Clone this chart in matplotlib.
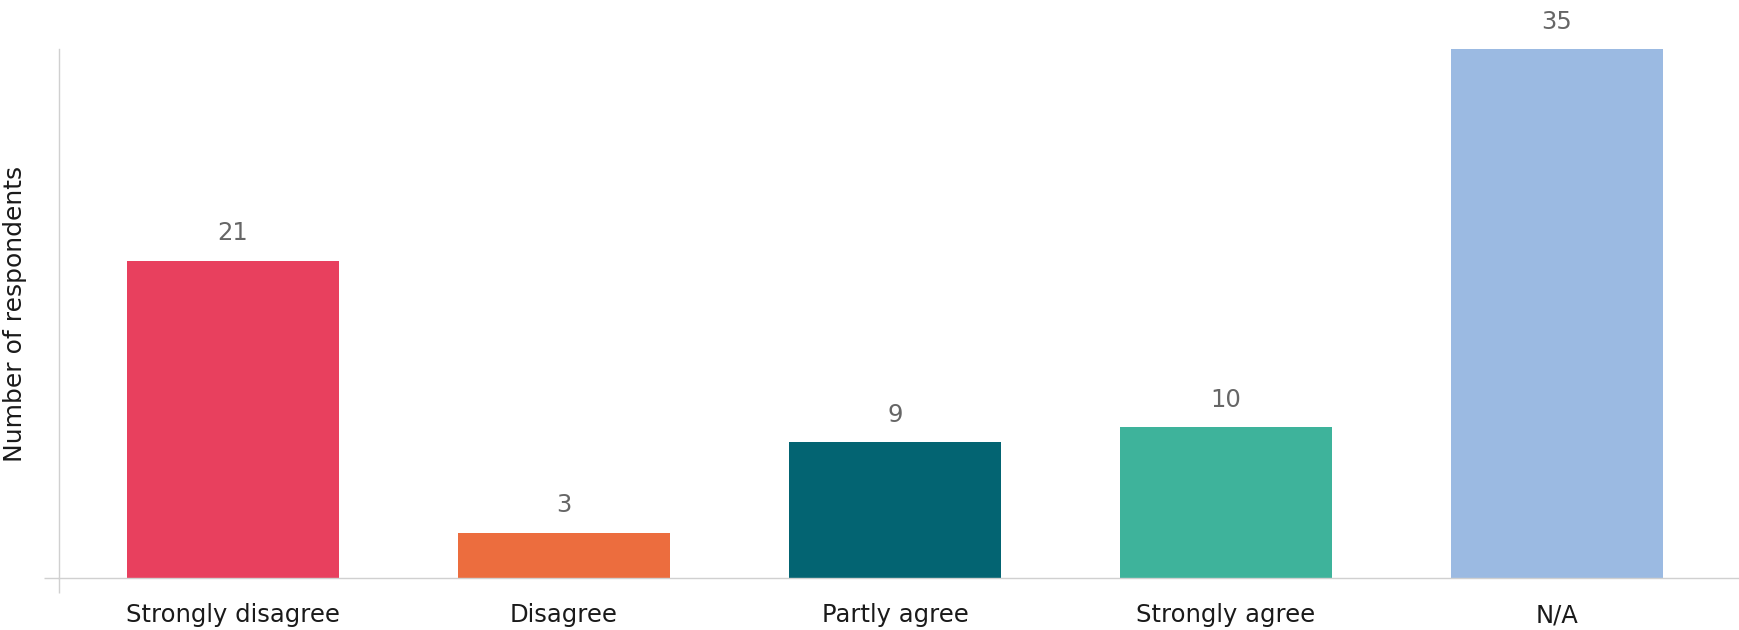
import numpy as np
import matplotlib
matplotlib.use("Agg")
import matplotlib.pyplot as plt

categories = ["Strongly disagree", "Disagree", "Partly agree", "Strongly agree", "N/A"]
counts = [21, 3, 9, 10, 35]
colors = ["#E8405E", "#EC6D3E", "#036472", "#3EB39B", "#9BBAE2"]

plt.rcParams['font.family'] = ['DejaVu Sans']

fig = plt.figure(figsize=(17.39, 6.30), dpi=100)
ax = fig.add_axes([0.0338, 0.0825, 0.9662, 0.8397])

x = np.arange(len(categories))
bars = ax.bar(x, counts, width=0.64, color=colors, zorder=2)

xmin, xmax = -0.526, 4.55
ax.set_xlim(xmin, xmax)
ax.set_ylim(0, 35)

# value labels above the bars
for b, v in zip(bars, counts):
    ax.annotate(str(v), (b.get_x() + b.get_width() / 2, v), xytext=(0, 11),
                textcoords="offset points", ha="center", va="bottom",
                fontsize=17.5, color="#666666")

ax.set_xticks(x)
ax.set_xticklabels(categories, fontsize=17.5, color="#1a1a1a")
ax.tick_params(axis="x", which="major", length=0, pad=18)
# little outward stubs where the axis lines cross
ax.set_xticks([xmin], minor=True)
ax.tick_params(axis="x", which="minor", length=11, width=1, color="#d0d0d0", direction="out")
ax.set_yticks([0])
ax.set_yticklabels([""])
ax.tick_params(axis="y", length=11, width=1, color="#d0d0d0", direction="out")

ax.set_ylabel("Number of respondents", fontsize=18, color="#1a1a1a")
ax.yaxis.set_label_coords(-0.019, 0.5)

for s in ["top", "right"]:
    ax.spines[s].set_visible(False)
for s in ["left", "bottom"]:
    ax.spines[s].set_color("#d0d0d0")
    ax.spines[s].set_linewidth(1)

fig.savefig("out.png", dpi=100)
